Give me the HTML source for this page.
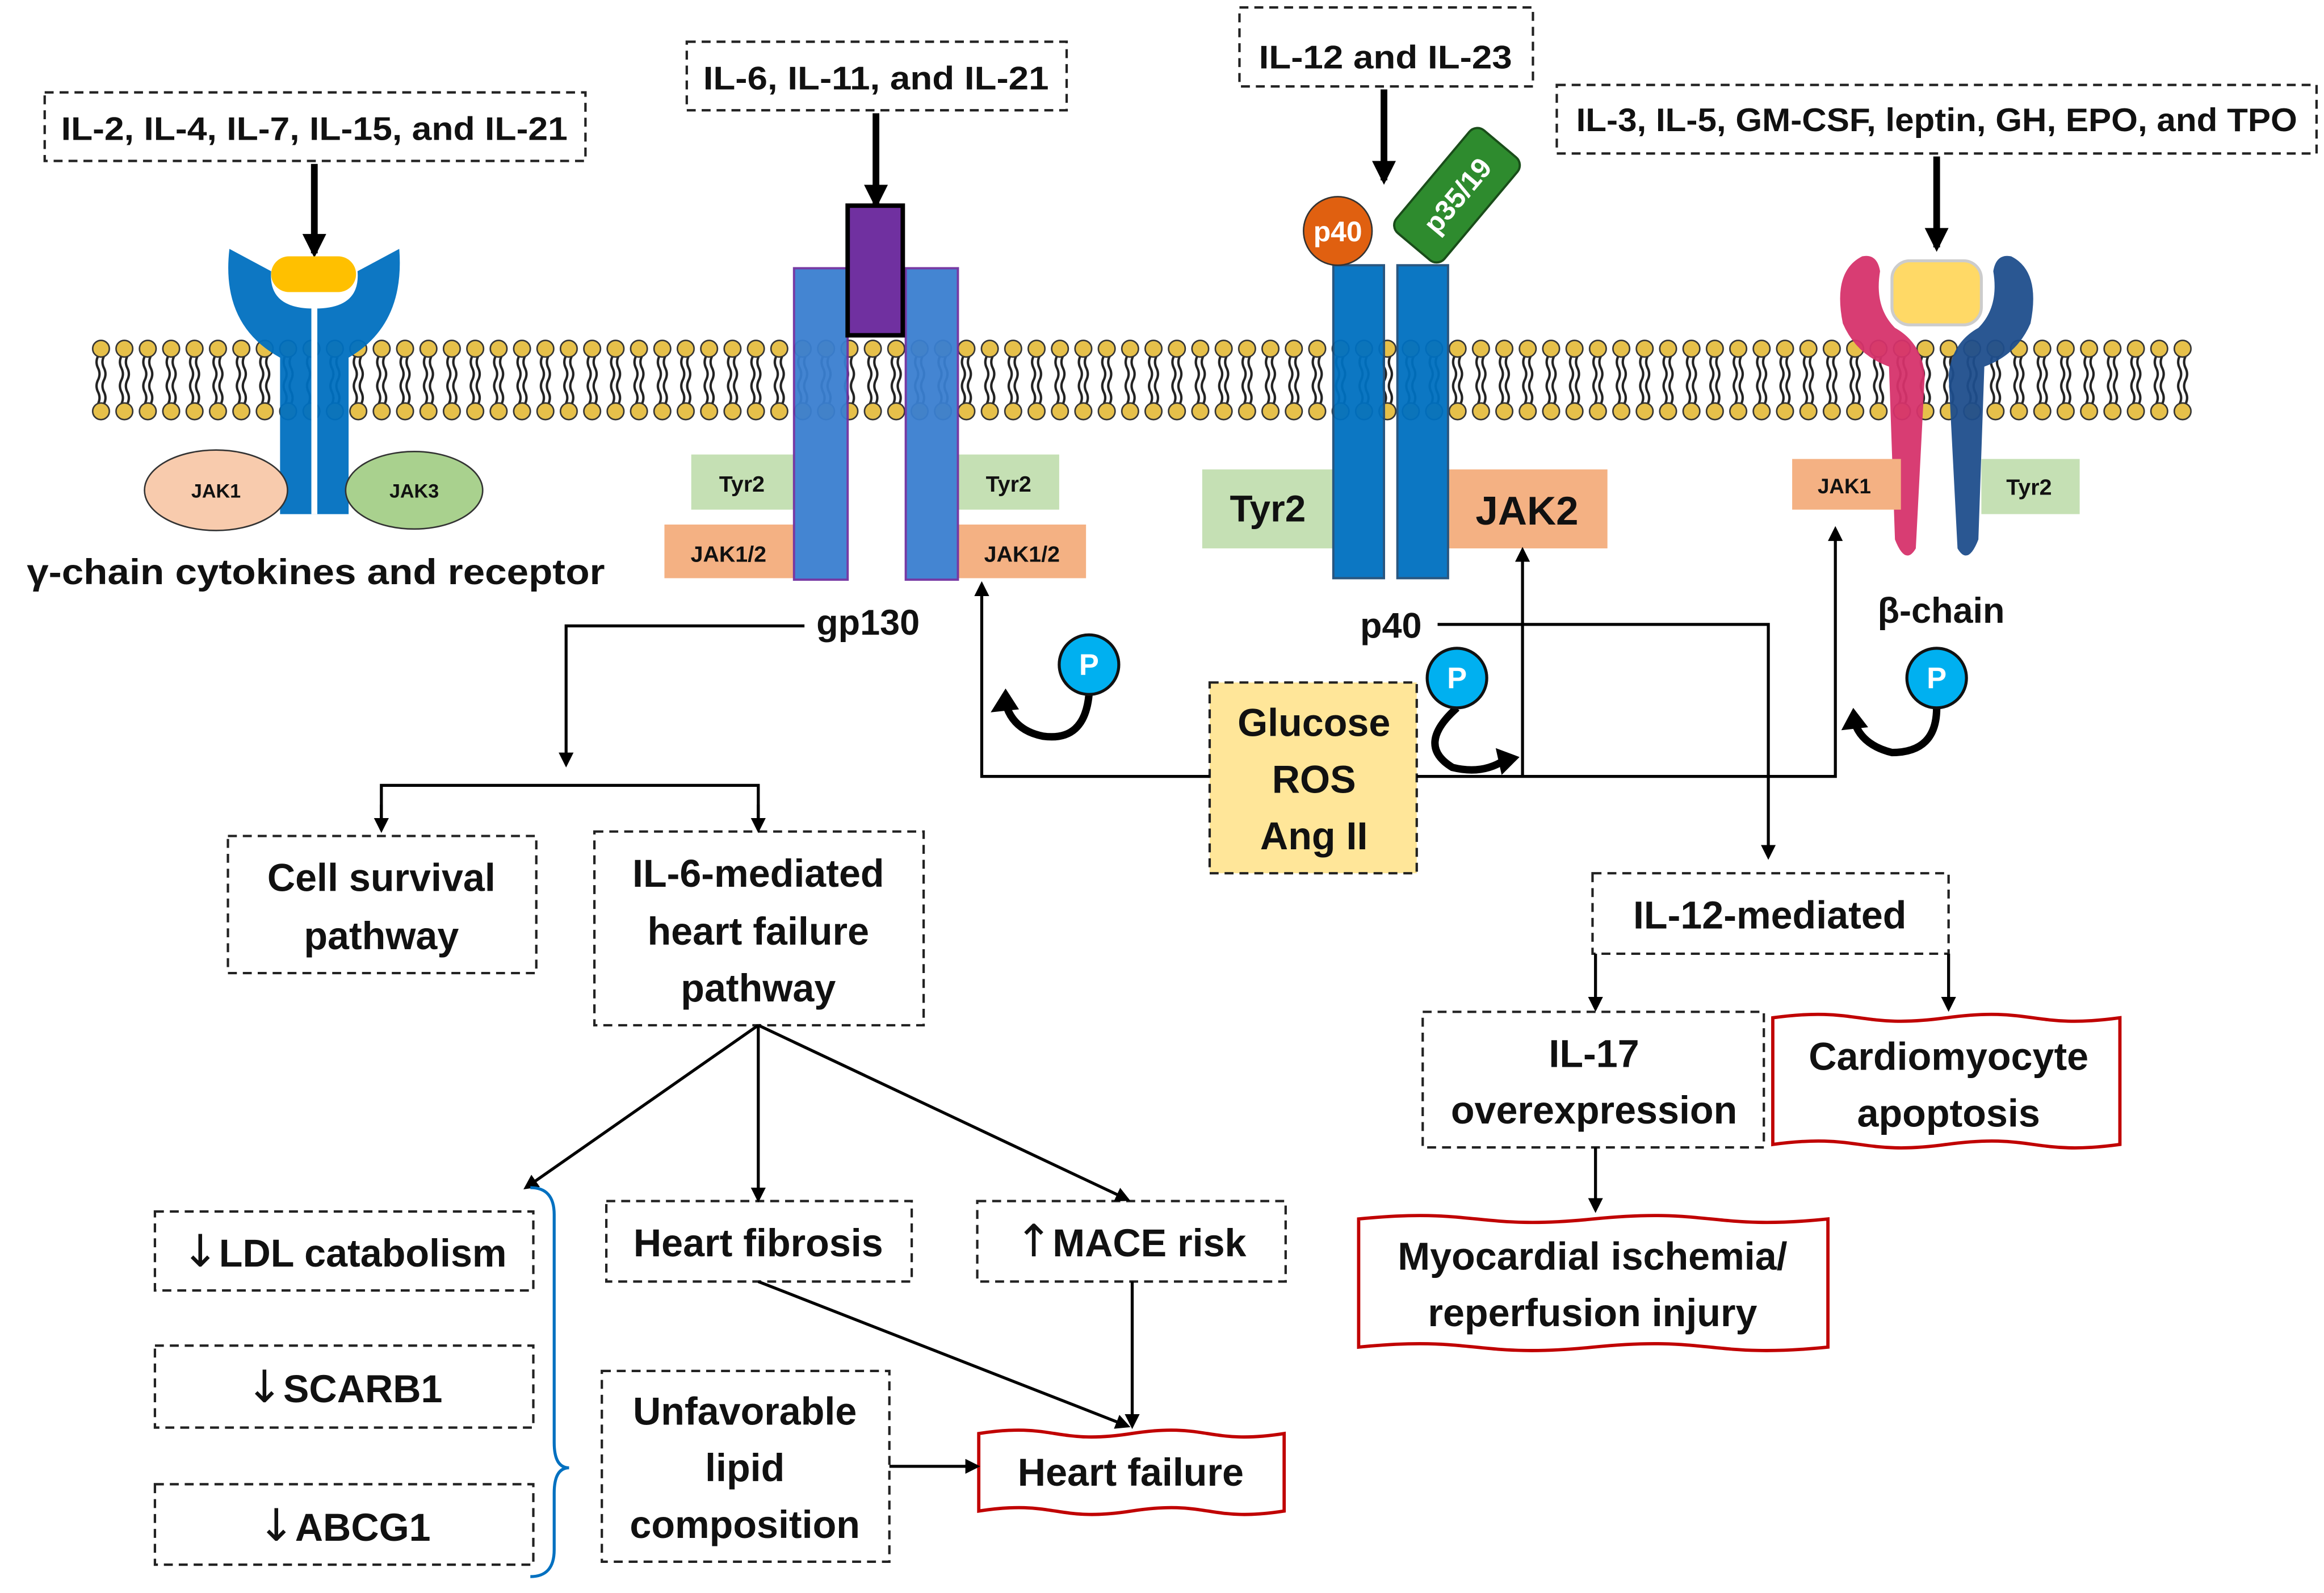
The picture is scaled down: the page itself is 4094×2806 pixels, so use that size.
<!DOCTYPE html>
<html><head><meta charset="utf-8"><style>
html,body{margin:0;padding:0;background:#fff;}
svg{display:block;}
text{font-family:"Liberation Sans Narrow","Liberation Sans",sans-serif;font-weight:bold;fill:#111;}
.ar{font-family:"DejaVu Sans",sans-serif;font-weight:normal;font-size:30px;}
</style></head><body>
<svg width="4094" height="2806" viewBox="0 0 1560 1069" preserveAspectRatio="none" xmlns="http://www.w3.org/2000/svg">
<defs>
<marker id="ah" markerWidth="10" markerHeight="10" refX="8" refY="5" orient="auto" markerUnits="userSpaceOnUse"><path d="M0,0 L10,5 L0,10 Z" fill="#000"/></marker>
<marker id="ahb" markerWidth="16" markerHeight="16" refX="13" refY="8" orient="auto" markerUnits="userSpaceOnUse"><path d="M0,0 L16,8 L0,16 Z" fill="#000"/></marker>
<pattern id="lip" x="60" y="0" width="15.7" height="1069" patternUnits="userSpaceOnUse">
<path d="M5.8,239 q-2,4 0,8 q2,4 0,8 q-2,4 0,8 q2,4 0,8 M9.8,239 q-2,4 0,8 q2,4 0,8 q-2,4 0,8 q2,4 0,8" stroke="#222" stroke-width="1.6" fill="none"/>
<circle cx="7.8" cy="234" r="5.6" fill="#e6c04a" stroke="#333" stroke-width="1"/>
<circle cx="7.8" cy="276" r="5.6" fill="#e6c04a" stroke="#333" stroke-width="1"/>
</pattern>
</defs>

<rect x="60" y="226" width="1412" height="58" fill="url(#lip)"/>

<g fill="none" stroke="#222" stroke-width="1.6" stroke-dasharray="6,4">
<rect x="30" y="62" width="363" height="46"/>
<rect x="461" y="28" width="255" height="46"/>
<rect x="832" y="5" width="197" height="53"/>
<rect x="1045" y="57" width="510" height="46"/>
<rect x="153" y="561" width="207" height="92"/>
<rect x="399" y="558" width="221" height="130"/>
<rect x="104" y="813" width="254" height="53"/>
<rect x="104" y="903" width="254" height="55"/>
<rect x="104" y="996" width="254" height="54"/>
<rect x="407" y="806" width="205" height="54"/>
<rect x="656" y="806" width="207" height="54"/>
<rect x="404" y="920" width="193" height="128"/>
<rect x="812" y="458" width="139" height="128" fill="#ffe699"/>
<rect x="1069" y="586" width="239" height="54"/>
<rect x="955" y="679" width="229" height="91"/>
</g>

<g fill="#fff" stroke="#c00000" stroke-width="2.2">
<path d="M657,962 c51,-8 51,8 102.5,0 c51,-8 51,8 102.5,0 L862,1014 c-51,8 -51,-8 -102.5,0 c-51,8 -51,-8 -102.5,0 Z"/>
<path d="M1190,683 c58,-8 58,8 116.5,0 c58,-8 58,8 116.5,0 L1423,768 c-58,8 -58,-8 -116.5,0 c-58,8 -58,-8 -116.5,0 Z"/>
<path d="M912,818 c79,-8 79,8 157.5,0 c79,-8 79,8 157.5,0 L1227,904 c-79,8 -79,-8 -157.5,0 c-79,8 -79,-8 -157.5,0 Z"/>
</g>

<g stroke="#000" stroke-width="4.5" marker-end="url(#ahb)">
<line x1="211" y1="110" x2="211" y2="170"/>
<line x1="588" y1="76" x2="588" y2="137"/>
<line x1="929" y1="60" x2="929" y2="121"/>
<line x1="1300" y1="105" x2="1300" y2="166"/>
</g>

<path d="M154,167 Q148,218 188,240 L188,345 L234,345 L234,240 Q272,218 268,167 L240,182 Q242,206 214,207 L208,207 Q180,206 182,182 Z" fill="#0070c0" opacity="0.95"/>
<line x1="211" y1="200" x2="211" y2="345" stroke="#fff" stroke-width="4"/>
<rect x="182" y="172" width="57" height="24" rx="12" fill="#ffc000"/>
<ellipse cx="145" cy="329" rx="48" ry="27" fill="#f8cbad" stroke="#333" stroke-width="1"/>
<ellipse cx="278" cy="329" rx="46" ry="26" fill="#a9d18e" stroke="#333" stroke-width="1"/>
<text x="145" y="334" font-size="13" text-anchor="middle">JAK1</text>
<text x="278" y="334" font-size="13" text-anchor="middle">JAK3</text>
<text x="18" y="392" font-size="24" textLength="388" lengthAdjust="spacingAndGlyphs">γ-chain cytokines and receptor</text>

<rect x="464" y="305" width="69" height="37" fill="#c5e0b4"/>
<rect x="643" y="305" width="68" height="37" fill="#c5e0b4"/>
<rect x="446" y="352" width="87" height="36" fill="#f4b183"/>
<rect x="643" y="352" width="86" height="36" fill="#f4b183"/>
<rect x="533" y="180" width="36" height="209" fill="#3a7fd0" stroke="#7030a0" stroke-width="1.5" opacity="0.95"/>
<rect x="608" y="180" width="35" height="209" fill="#3a7fd0" stroke="#7030a0" stroke-width="1.5" opacity="0.95"/>
<rect x="569" y="138" width="37" height="87" fill="#7030a0" stroke="#000" stroke-width="3"/>
<text x="498" y="330" font-size="15" text-anchor="middle">Tyr2</text>
<text x="677" y="330" font-size="15" text-anchor="middle">Tyr2</text>
<text x="489" y="377" font-size="15" text-anchor="middle">JAK1/2</text>
<text x="686" y="377" font-size="15" text-anchor="middle">JAK1/2</text>
<text x="548" y="426" font-size="24">gp130</text>

<rect x="807" y="315" width="88" height="53" fill="#c5e0b4"/>
<rect x="972" y="315" width="107" height="53" fill="#f4b183"/>
<rect x="895" y="178" width="34" height="210" fill="#0070c0" stroke="#1f4e79" stroke-width="1.5" opacity="0.95"/>
<rect x="938" y="178" width="34" height="210" fill="#0070c0" stroke="#1f4e79" stroke-width="1.5" opacity="0.95"/>
<text x="851" y="350" font-size="25" text-anchor="middle">Tyr2</text>
<text x="1025" y="352" font-size="27" text-anchor="middle">JAK2</text>
<circle cx="898" cy="155" r="23" fill="#e06010" stroke="#333" stroke-width="1"/>
<text x="898" y="162" font-size="19" text-anchor="middle" style="fill:#fff">p40</text>
<g transform="translate(978,131) rotate(-50)">
<rect x="-45" y="-21" width="90" height="42" rx="7" fill="#2e8b2e" stroke="#1a4d1a" stroke-width="1.5"/>
<text x="0" y="7" font-size="19" text-anchor="middle" style="fill:#fff">p35/19</text>
</g>
<text x="913" y="428" font-size="24">p40</text>

<path d="M1250,172 Q1230,182 1237,217 Q1246,238 1268,246 L1272,362 Q1279,380 1286,368 L1292,252 Q1290,230 1272,220 Q1258,206 1262,182 Q1260,170 1250,172 Z" fill="#d6336c" opacity="0.95"/>
<path d="M1350,172 Q1370,182 1363,217 Q1354,238 1332,246 L1328,362 Q1321,380 1314,368 L1308,252 Q1310,230 1328,220 Q1342,206 1338,182 Q1340,170 1350,172 Z" fill="#1f4e8c" opacity="0.95"/>
<rect x="1270" y="175" width="60" height="43" rx="12" fill="#ffd966" stroke="#ccc" stroke-width="2"/>
<rect x="1203" y="308" width="73" height="34" fill="#f4b183"/>
<rect x="1330" y="308" width="66" height="37" fill="#c5e0b4"/>
<text x="1238" y="331" font-size="14" text-anchor="middle">JAK1</text>
<text x="1362" y="332" font-size="15" text-anchor="middle">Tyr2</text>
<text x="1303" y="418" font-size="24" text-anchor="middle">β-chain</text>

<text x="211" y="94" font-size="22" text-anchor="middle" textLength="340" lengthAdjust="spacingAndGlyphs">IL-2, IL-4, IL-7, IL-15, and IL-21</text>
<text x="588" y="60" font-size="22" text-anchor="middle" textLength="232" lengthAdjust="spacingAndGlyphs">IL-6, IL-11, and IL-21</text>
<text x="930" y="46" font-size="22" text-anchor="middle" textLength="170" lengthAdjust="spacingAndGlyphs">IL-12 and IL-23</text>
<text x="1300" y="88" font-size="22" text-anchor="middle" textLength="484" lengthAdjust="spacingAndGlyphs">IL-3, IL-5, GM-CSF, leptin, GH, EPO, and TPO</text>
<g font-size="26" text-anchor="middle">
<text x="256" y="598">Cell survival</text>
<text x="256" y="637">pathway</text>
<text x="509" y="595">IL-6-mediated</text>
<text x="509" y="634">heart failure</text>
<text x="509" y="672">pathway</text>
<text x="231" y="850"><tspan class="ar">↓</tspan>LDL catabolism</text>
<text x="231" y="941"><tspan class="ar">↓</tspan>SCARB1</text>
<text x="231" y="1034"><tspan class="ar">↓</tspan>ABCG1</text>
<text x="509" y="843">Heart fibrosis</text>
<text x="759" y="843"><tspan class="ar">↑</tspan>MACE risk</text>
<text x="500" y="956">Unfavorable</text>
<text x="500" y="994">lipid</text>
<text x="500" y="1032">composition</text>
<text x="759" y="997">Heart failure</text>
<text x="882" y="494">Glucose</text>
<text x="882" y="532">ROS</text>
<text x="882" y="570">Ang II</text>
<text x="1188" y="623">IL-12-mediated</text>
<text x="1070" y="716">IL-17</text>
<text x="1070" y="754">overexpression</text>
<text x="1308" y="718">Cardiomyocyte</text>
<text x="1308" y="756">apoptosis</text>
<text x="1069" y="852">Myocardial ischemia/</text>
<text x="1069" y="890">reperfusion injury</text>
</g>

<g stroke="#000" stroke-width="2" fill="none">
<polyline points="540,420 380,420 380,513" marker-end="url(#ah)"/>
<polyline points="256,555 256,527 509,527 509,555"/>
<line x1="256" y1="540" x2="256" y2="557" marker-end="url(#ah)"/>
<line x1="509" y1="540" x2="509" y2="557" marker-end="url(#ah)"/>
<line x1="509" y1="688" x2="353" y2="797" marker-end="url(#ah)"/>
<line x1="509" y1="688" x2="509" y2="805" marker-end="url(#ah)"/>
<line x1="509" y1="688" x2="757" y2="805" marker-end="url(#ah)"/>
<line x1="509" y1="860" x2="757" y2="957" marker-end="url(#ah)"/>
<line x1="760" y1="860" x2="760" y2="957" marker-end="url(#ah)"/>
<line x1="597" y1="984" x2="656" y2="984" marker-end="url(#ah)"/>
<polyline points="812,521 659,521 659,392" marker-end="url(#ah)"/>
<polyline points="951,521 1232,521 1232,355" marker-end="url(#ah)"/>
<line x1="1022" y1="521" x2="1022" y2="369" marker-end="url(#ah)"/>
<polyline points="965,419 1187,419 1187,575" marker-end="url(#ah)"/>
<line x1="1071" y1="640" x2="1071" y2="677" marker-end="url(#ah)"/>
<line x1="1308" y1="640" x2="1308" y2="677" marker-end="url(#ah)"/>
<line x1="1071" y1="770" x2="1071" y2="812" marker-end="url(#ah)"/>
</g>
<path d="M356,797 Q372,797 372,815 L372,968 Q372,985 382,985 Q372,985 372,1002 L372,1040 Q372,1058 356,1058" fill="none" stroke="#0070c0" stroke-width="2"/>

<g stroke="#000" stroke-width="5" fill="none">
<path d="M731,466 Q728,498 700,494 Q680,490 675,472"/>
<path d="M978,475 Q950,500 975,515 Q995,520 1010,510"/>
<path d="M1300,475 Q1300,505 1270,505 Q1250,500 1245,485"/>
</g>
<path d="M665,478 L675,462 L684,476 Z" fill="#000"/>
<path d="M1004,502 L1020,508 L1008,520 Z" fill="#000"/>
<path d="M1236,490 L1244,475 L1254,488 Z" fill="#000"/>
<g fill="#00b0f0" stroke="#111" stroke-width="2">
<circle cx="731" cy="446" r="20"/>
<circle cx="978" cy="455" r="20"/>
<circle cx="1300" cy="455" r="20"/>
</g>
<g font-size="20" text-anchor="middle">
<text x="731" y="453" style="fill:#fff">P</text>
<text x="978" y="462" style="fill:#fff">P</text>
<text x="1300" y="462" style="fill:#fff">P</text>
</g>
</svg>
</body></html>
